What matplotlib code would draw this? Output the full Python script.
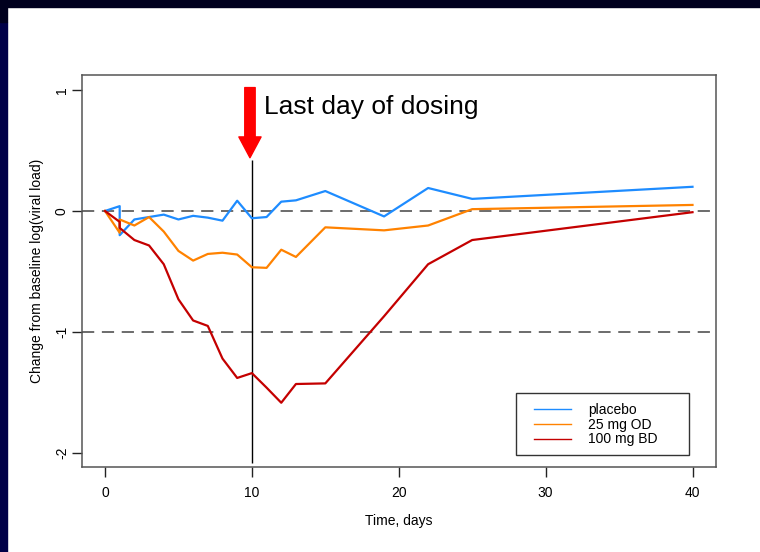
import matplotlib
matplotlib.use("Agg")
import matplotlib.pyplot as plt
from matplotlib.patches import Rectangle

plt.rcParams['font.family'] = ['Liberation Sans', 'DejaVu Sans']

# days (day 1 has two measurements)
days = [0, 1, 1, 2, 3, 4, 5, 6, 7, 8, 9, 10, 11, 12, 13, 15, 19, 22, 25, 40]
placebo = [0, 0.04, -0.20, -0.07, -0.05, -0.03, -0.07, -0.04, -0.055, -0.08,
           0.085, -0.06, -0.05, 0.077, 0.088, 0.165, -0.045, 0.19, 0.10, 0.20]
mg25_od = [0, -0.18, -0.07, -0.12, -0.05, -0.17, -0.33, -0.41, -0.355, -0.345,
           -0.36, -0.465, -0.47, -0.32, -0.38, -0.135, -0.16, -0.12, 0.015, 0.05]
mg100_bd = [0, -0.09, -0.14, -0.24, -0.285, -0.44, -0.73, -0.905, -0.95, -1.22,
            -1.38, -1.34, -1.46, -1.585, -1.43, -1.425, -0.87, -0.44, -0.24, -0.01]
labels = ["placebo", "25 mg OD", "100 mg BD"]
colors = ["#1E8CFF", "#FF8200", "#C40000"]
last_dose_day = 10

fig = plt.figure(figsize=(7.6, 5.52), dpi=100)
fig.patch.set_facecolor("white")
# slide border
fig.patches.append(Rectangle((0, 1 - 7 / 552), 1, 7 / 552, transform=fig.transFigure,
                             color="#00001E", zorder=0))
fig.patches.append(Rectangle((0, 0), 7 / 760, 1 - 22 / 552, transform=fig.transFigure,
                             color="#000048", zorder=0))
fig.patches.append(Rectangle((0, 1 - 22 / 552), 7 / 760, 22 / 552, transform=fig.transFigure,
                             color="#00001E", zorder=0))

ax = fig.add_axes([81.5 / 760, 85 / 552, 634.5 / 760, 392 / 552])

ax.axhline(0, color="#444444", lw=1.1, ls=(0, (8, 5)), zorder=1)
ax.axhline(-1, color="#444444", lw=1.1, ls=(0, (8, 5)), zorder=1)
ax.vlines(last_dose_day, -2.08, 0.42, color="black", lw=1, zorder=2)

lines = []
for ys, c, lab in zip([placebo, mg25_od, mg100_bd], colors, labels):
    ax.plot(days, ys, color=c, lw=1.6, zorder=3)
    l, = ax.plot([], [], color=c, lw=1, label=lab)
    lines.append(l)

ax.annotate("", xy=(9.87, 0.44), xytext=(9.87, 1.02),
            arrowprops=dict(arrowstyle="simple,head_width=16,head_length=15,tail_width=7.5",
                            mutation_scale=1, color="#FF0000", shrinkA=0, shrinkB=0))
ax.text(10.8, 0.86, "Last day of dosing", fontsize=19, va="center", ha="left")

ax.set_xlim(-1.6, 41.6)
ax.set_ylim(-2.116, 1.124)
ax.set_xticks([0, 10, 20, 30, 40])
ax.set_yticks([-2, -1, 0, 1])
ax.set_yticklabels(["-2", "-1", "0", "1"], rotation=90, va="center")
ax.tick_params(axis="both", direction="out", length=7, width=1, labelsize=10, color="#222222")
ax.tick_params(axis="x", pad=7)
ax.tick_params(axis="y", pad=2)
for s in ax.spines.values():
    s.set_color("#555555")
    s.set_linewidth(1.1)

ax.set_xlabel("Time, days", fontsize=10, labelpad=10)
ax.set_ylabel("Change from baseline log(viral load)", fontsize=10, labelpad=8)

# legend box (R style, wider than the entries)
ax.add_patch(Rectangle((0.685, 0.0306), 0.273, 0.158, transform=ax.transAxes,
                       fill=False, edgecolor="#333333", lw=1, zorder=5))
leg = ax.legend(handles=lines, loc="lower left", bbox_to_anchor=(0.696, 0.026),
                fontsize=10, frameon=False,
                handlelength=2.7, handletextpad=1.2, labelspacing=0.05, borderpad=0.75,
                borderaxespad=0)

fig.savefig("out.png", dpi=100, facecolor=fig.get_facecolor())
